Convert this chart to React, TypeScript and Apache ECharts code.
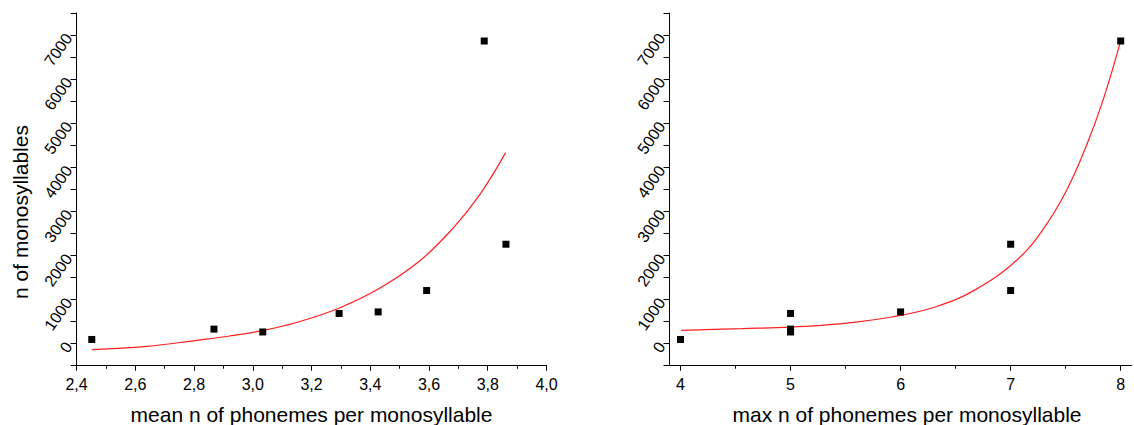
import React, { useEffect, useRef } from "react";
import * as echarts from "echarts";

// Observed data: number of monosyllables per language sample
const meanPhonemes = [2.452, 2.868, 3.034, 3.294, 3.427, 3.592, 3.788, 3.862];
const maxPhonemes = [4, 5, 5, 5, 6, 7, 8, 7];
const monosyllables = [95, 330, 265, 685, 720, 1205, 6865, 2255];

// Fitted curve (left panel)
const fitMeanX = [2.452, 2.639, 2.809, 2.922, 3.024, 3.149, 3.297, 3.433, 3.569, 3.682, 3.773, 3.861];
const fitMeanY = [-136, -61, 75, 173, 286, 480, 815, 1260, 1880, 2620, 3380, 4332];

// Fitted curve (right panel)
const fitMaxX = [4.006, 4.56, 4.996, 5.466, 5.92, 6.313, 6.677, 7.055, 7.297, 7.51, 7.69, 7.842, 7.994];
const fitMaxY = [302, 341, 377, 455, 605, 832, 1220, 1893, 2600, 3484, 4500, 5540, 6818];

const maxTicks = [4, 5, 6, 7, 8];
const maxMinorTicks = [4.5, 5.5, 6.5, 7.5];

const yLabel = "n of monosyllables";
const xLabelLeft = "mean n of phonemes per monosyllable";
const xLabelRight = "max n of phonemes per monosyllable";

const FONT = "Liberation Sans";

export default function App() {
  const ref = useRef<HTMLDivElement>(null);

  useEffect(() => {
    if (!ref.current) return;
    const chart = echarts.init(ref.current, null, { renderer: "svg" });

    const axisLine = { show: true, onZero: false, lineStyle: { color: "#000", width: 1 } };
    const yAxisCommon = {
      type: "value" as const,
      min: -500,
      max: 7500,
      interval: 500,
      axisLine,
      splitLine: { show: false },
      axisTick: { show: true, length: 6, lineStyle: { color: "#000" } },
      axisLabel: {
        rotate: 55,
        margin: 8,
        color: "#000",
        fontFamily: FONT,
        fontSize: 16,
        formatter: (v: number) => (v >= 0 && v <= 7000 && v % 1000 === 0 ? String(v) : ""),
      },
    };

    const option: any = {
      animation: false,
      grid: [
        { left: 76.5, top: 13, width: 470, height: 352.7 },
        { left: 669.5, top: 13, width: 462.2, height: 352.7 },
      ],
      xAxis: [
        {
          type: "value",
          gridIndex: 0,
          min: 2.4,
          max: 4.0,
          interval: 0.2,
          axisLine,
          splitLine: { show: false },
          axisTick: { show: true, length: 5, lineStyle: { color: "#000" } },
          minorTick: { show: true, splitNumber: 2, length: 3, lineStyle: { color: "#000" } },
          minorSplitLine: { show: false },
          axisLabel: {
            margin: 11,
            color: "#000",
            fontFamily: FONT,
            fontSize: 16,
            formatter: (v: number) => v.toFixed(1).replace(".", ","),
          },
        },
        {
          type: "value",
          gridIndex: 1,
          position: "bottom",
          min: 3.9,
          max: 8.1,
          axisLine,
          splitLine: { show: false },
          axisTick: { show: true, length: 5, customValues: maxTicks, lineStyle: { color: "#000" } },
          axisLabel: {
            margin: 11,
            color: "#000",
            fontFamily: FONT,
            fontSize: 16,
            customValues: maxTicks,
            formatter: (v: number) => String(v),
          },
        },
        {
          type: "value",
          gridIndex: 1,
          position: "bottom",
          offset: 0,
          min: 3.9,
          max: 8.1,
          axisLine: { show: false, onZero: false },
          splitLine: { show: false },
          axisTick: { show: true, length: 3, customValues: maxMinorTicks, lineStyle: { color: "#000" } },
          axisLabel: { show: false },
        },
      ],
      yAxis: [
        { ...yAxisCommon, gridIndex: 0 },
        { ...yAxisCommon, gridIndex: 1 },
      ],
      graphic: [
        {
          type: "text",
          x: 20,
          y: 212,
          rotation: Math.PI / 2,
          style: {
            text: yLabel,
            fontFamily: FONT,
            fontSize: 21,
            fill: "#000",
            textAlign: "center",
            textVerticalAlign: "middle",
          },
        },
        {
          type: "text",
          x: 311.5,
          y: 414,
          style: {
            text: xLabelLeft,
            fontFamily: FONT,
            fontSize: 21,
            fill: "#000",
            textAlign: "center",
            textVerticalAlign: "middle",
          },
        },
        {
          type: "text",
          x: 907,
          y: 414,
          style: {
            text: xLabelRight,
            fontFamily: FONT,
            fontSize: 21,
            fill: "#000",
            textAlign: "center",
            textVerticalAlign: "middle",
          },
        },
      ],
      series: [
        {
          type: "line",
          xAxisIndex: 0,
          yAxisIndex: 0,
          data: fitMeanX.map((x, i) => [x, fitMeanY[i]]),
          smooth: 0.4,
          showSymbol: false,
          lineStyle: { color: "#ff1f1f", width: 1.2 },
          z: 2,
        },
        {
          type: "scatter",
          xAxisIndex: 0,
          yAxisIndex: 0,
          data: meanPhonemes.map((x, i) => [x, monosyllables[i]]),
          symbol: "rect",
          symbolSize: 7,
          itemStyle: { color: "#000", opacity: 1 },
          z: 3,
        },
        {
          type: "line",
          xAxisIndex: 1,
          yAxisIndex: 1,
          data: fitMaxX.map((x, i) => [x, fitMaxY[i]]),
          smooth: 0.4,
          showSymbol: false,
          lineStyle: { color: "#ff1f1f", width: 1.2 },
          z: 2,
        },
        {
          type: "scatter",
          xAxisIndex: 1,
          yAxisIndex: 1,
          data: maxPhonemes.map((x, i) => [x, monosyllables[i]]),
          symbol: "rect",
          symbolSize: 7,
          itemStyle: { color: "#000", opacity: 1 },
          z: 3,
        },
      ],
    };

    chart.setOption(option);
    return () => chart.dispose();
  }, []);

  return (
    <div
      ref={ref}
      style={{ position: "fixed", left: 0, top: 0, width: 1134, height: 425, background: "#fff" }}
    />
  );
}
